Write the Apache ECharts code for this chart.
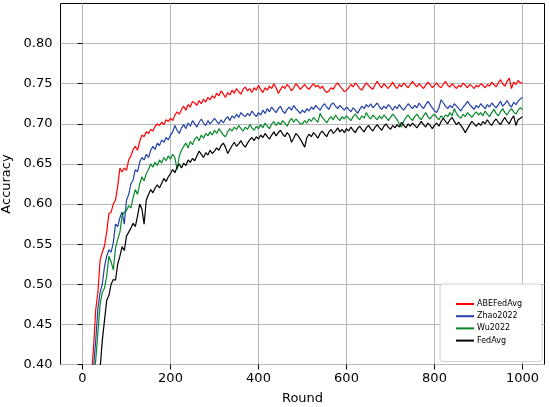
<!DOCTYPE html>
<html>
<head>
<meta charset="utf-8">
<script src="https://cdn.jsdelivr.net/npm/echarts@6/dist/echarts.min.js"></script>
<style>
html,body{margin:0;padding:0;background:#fff;}
#chart{width:550px;height:407px;}
</style>
</head>
<body>
<div id="chart"></div>
<script>
// Rounds sampled every 5 rounds, 10 .. 1000
const rounds = [];
for (let r = 10; r <= 1000; r += 5) rounds.push(r);

const seriesNames = ['ABEFedAvg', 'Zhao2022', 'Wu2022', 'FedAvg'];
const xTicks = [0, 200, 400, 600, 800, 1000];
const yTicks = [0.40, 0.45, 0.50, 0.55, 0.60, 0.65, 0.70, 0.75, 0.80];

const abeFedAvg = [
  0.33,0.36,0.385,0.42,0.468,0.49,0.53,0.54,0.548,0.565,0.588,0.59,0.60,0.605,0.622,0.645,0.64,0.645,
  0.642,0.655,0.66,0.668,0.672,0.667,0.678,0.686,0.684,0.69,0.688,0.693,0.691,0.697,0.700,0.698,0.702,0.699,0.705,0.703,
  0.707,0.704,0.711,0.715,0.712,0.718,0.722,0.717,0.724,0.721,0.728,0.726,0.723,0.729,0.725,0.731,0.727,0.733,0.730,0.735,
  0.732,0.738,0.735,0.741,0.737,0.733,0.739,0.736,0.742,0.738,0.744,0.740,0.737,0.743,0.746,0.741,0.744,0.739,0.745,0.742,
  0.748,0.743,0.739,0.745,0.742,0.747,0.744,0.750,0.745,0.738,0.743,0.747,0.744,0.749,0.746,0.741,0.745,0.750,0.747,0.743,
  0.746,0.749,0.745,0.743,0.747,0.750,0.746,0.748,0.744,0.747,0.742,0.739,0.741,0.745,0.743,0.748,0.751,0.747,0.744,0.740,
  0.742,0.745,0.749,0.746,0.751,0.748,0.744,0.742,0.747,0.751,0.748,0.745,0.743,0.749,0.753,0.748,0.745,0.750,0.747,0.744,
  0.748,0.752,0.747,0.744,0.749,0.746,0.751,0.748,0.745,0.749,0.753,0.749,0.746,0.750,0.747,0.744,0.748,0.752,0.749,0.745,
  0.748,0.751,0.747,0.745,0.749,0.753,0.748,0.746,0.750,0.747,0.744,0.748,0.746,0.751,0.748,0.745,0.749,0.747,0.744,0.748,
  0.746,0.750,0.748,0.745,0.749,0.747,0.752,0.749,0.746,0.751,0.755,0.750,0.747,0.753,0.757,0.744,0.752,0.749,0.754,0.751,0.751
];
const zhao2022 = [
  0.32,0.35,0.37,0.395,0.43,0.47,0.49,0.50,0.522,0.535,0.543,0.54,0.552,0.575,0.572,0.583,0.59,0.575,
  0.605,0.612,0.625,0.63,0.643,0.64,0.652,0.658,0.655,0.662,0.658,0.667,0.672,0.668,0.676,0.673,0.68,0.677,0.683,0.680,
  0.686,0.69,0.698,0.692,0.688,0.695,0.699,0.694,0.701,0.697,0.704,0.700,0.696,0.702,0.706,0.701,0.698,0.704,0.700,0.703,
  0.707,0.703,0.700,0.705,0.701,0.706,0.709,0.704,0.710,0.707,0.712,0.708,0.714,0.711,0.709,0.713,0.710,0.716,0.712,0.709,
  0.714,0.711,0.717,0.713,0.719,0.715,0.721,0.717,0.714,0.719,0.722,0.716,0.713,0.718,0.721,0.717,0.723,0.719,0.716,0.713,
  0.717,0.714,0.719,0.716,0.721,0.718,0.723,0.720,0.717,0.722,0.725,0.721,0.718,0.724,0.726,0.722,0.719,0.723,0.720,0.717,
  0.721,0.718,0.715,0.720,0.717,0.713,0.718,0.722,0.719,0.724,0.721,0.725,0.720,0.723,0.726,0.721,0.718,0.722,0.719,0.724,
  0.721,0.717,0.722,0.719,0.724,0.720,0.717,0.721,0.725,0.722,0.719,0.723,0.720,0.726,0.722,0.719,0.724,0.728,0.724,0.720,
  0.716,0.714,0.720,0.730,0.726,0.722,0.719,0.723,0.720,0.725,0.722,0.719,0.716,0.721,0.724,0.728,0.724,0.721,0.718,0.723,
  0.720,0.725,0.722,0.719,0.724,0.721,0.726,0.723,0.720,0.724,0.728,0.722,0.725,0.729,0.724,0.721,0.727,0.724,0.728,0.731,0.733
];
const wu2022 = [
  0.31,0.34,0.36,0.38,0.405,0.44,0.475,0.49,0.495,0.51,0.535,0.528,0.518,0.545,0.556,0.565,0.585,0.59,
  0.592,0.598,0.595,0.608,0.618,0.612,0.625,0.634,0.629,0.638,0.643,0.650,0.646,0.652,0.648,0.655,0.651,0.658,0.654,0.660,
  0.656,0.662,0.658,0.643,0.660,0.667,0.672,0.676,0.670,0.678,0.674,0.681,0.684,0.679,0.686,0.682,0.688,0.685,0.690,0.686,
  0.692,0.688,0.694,0.690,0.686,0.684,0.690,0.694,0.691,0.696,0.693,0.698,0.694,0.691,0.696,0.693,0.699,0.695,0.692,0.697,
  0.694,0.699,0.695,0.701,0.697,0.694,0.700,0.703,0.698,0.702,0.699,0.704,0.701,0.697,0.703,0.707,0.702,0.706,0.703,0.700,
  0.700,0.704,0.701,0.706,0.703,0.708,0.705,0.702,0.713,0.708,0.705,0.701,0.706,0.709,0.705,0.711,0.707,0.704,0.709,0.706,
  0.710,0.707,0.704,0.709,0.712,0.708,0.705,0.710,0.707,0.714,0.709,0.706,0.711,0.708,0.705,0.710,0.706,0.711,0.708,0.704,
  0.708,0.712,0.709,0.705,0.700,0.696,0.703,0.708,0.711,0.707,0.704,0.709,0.712,0.708,0.705,0.710,0.714,0.709,0.706,0.710,
  0.712,0.708,0.705,0.710,0.707,0.711,0.709,0.714,0.710,0.719,0.713,0.709,0.707,0.712,0.709,0.714,0.711,0.708,0.712,0.715,
  0.711,0.714,0.710,0.716,0.712,0.709,0.714,0.718,0.713,0.710,0.715,0.719,0.714,0.711,0.716,0.719,0.715,0.712,0.717,0.720,0.718
];
const fedAvg = [
  0.29,0.31,0.33,0.35,0.365,0.38,0.395,0.43,0.455,0.48,0.486,0.50,0.506,0.505,0.525,0.535,0.547,0.542,
  0.56,0.565,0.57,0.576,0.572,0.585,0.60,0.594,0.575,0.605,0.612,0.618,0.614,0.620,0.624,0.62,0.626,0.632,0.628,0.634,
  0.638,0.643,0.639,0.646,0.650,0.645,0.651,0.648,0.655,0.652,0.657,0.654,0.660,0.666,0.662,0.658,0.664,0.661,0.667,0.663,
  0.666,0.670,0.667,0.673,0.676,0.671,0.663,0.668,0.673,0.677,0.672,0.675,0.679,0.674,0.671,0.676,0.680,0.683,0.679,0.684,
  0.681,0.686,0.683,0.688,0.684,0.681,0.686,0.690,0.685,0.689,0.692,0.687,0.684,0.689,0.686,0.677,0.682,0.688,0.685,0.681,
  0.676,0.671,0.683,0.687,0.684,0.689,0.686,0.682,0.688,0.691,0.687,0.684,0.690,0.693,0.688,0.691,0.695,0.690,0.693,0.689,
  0.694,0.691,0.696,0.692,0.689,0.694,0.697,0.693,0.690,0.695,0.698,0.694,0.691,0.696,0.699,0.695,0.692,0.697,0.700,0.696,
  0.693,0.698,0.695,0.699,0.696,0.702,0.698,0.695,0.700,0.697,0.701,0.698,0.695,0.699,0.703,0.699,0.696,0.701,0.698,0.694,
  0.698,0.701,0.697,0.703,0.707,0.703,0.700,0.705,0.708,0.703,0.699,0.702,0.698,0.694,0.689,0.694,0.699,0.703,0.700,0.697,
  0.701,0.698,0.703,0.700,0.705,0.701,0.698,0.703,0.706,0.702,0.699,0.704,0.708,0.703,0.700,0.706,0.710,0.698,0.705,0.707,0.709
];

const seriesValues = [abeFedAvg, zhao2022, wu2022, fedAvg];
const colors = ['#ff0000', '#2140a8', '#07892a', '#000000'];

const chart = echarts.init(document.getElementById('chart'), null, {renderer: 'canvas'});
const font = 'DejaVu Sans';

chart.setOption({
  animation: false,
  backgroundColor: '#fff',
  grid: {
    left: 60.5, top: 3.5, right: 5.5, bottom: 42.5,
    outerBoundsMode: 'none',
    containLabel: false,
    show: true, borderColor: '#000', borderWidth: 1, backgroundColor: 'transparent'
  },
  legend: {
    orient: 'vertical',
    left: 440, top: 284,
    padding: [16, 20, 17, 16],
    itemGap: 4.2,
    itemWidth: 18, itemHeight: 2,
    icon: 'rect',
    backgroundColor: '#fff',
    borderColor: '#d0d0d0', borderWidth: 1, borderRadius: 3,
    textStyle: {fontFamily: font, fontSize: 8, color: '#000', padding: [0,0,0,-2]},
    data: seriesNames
  },
  xAxis: {
    type: 'value', min: -50, max: 1050,
    name: 'Round', nameLocation: 'middle', nameGap: 28,
    nameTextStyle: {fontFamily: font, fontSize: 13, color: '#000'},
    axisLine: {show: false},
    axisTick: {show: true, length: 5, customValues: xTicks, lineStyle: {color: '#000'}},
    axisLabel: {customValues: xTicks, fontFamily: font, fontSize: 13, color: '#000', margin: 8,
      formatter: v => String(Math.round(v))},
    splitLine: {show: true, lineStyle: {color: '#b8b8b8', width: 1}}
  },
  yAxis: {
    type: 'value', min: 0.40, max: 0.85,
    name: 'Accuracy', nameLocation: 'middle', nameGap: 41, nameRotate: 90,
    nameTextStyle: {fontFamily: font, fontSize: 13, color: '#000'},
    axisLine: {show: false},
    axisTick: {show: true, length: 5, customValues: yTicks, lineStyle: {color: '#000'}},
    axisLabel: {customValues: yTicks, fontFamily: font, fontSize: 13, color: '#000', margin: 8,
      formatter: v => v.toFixed(2)},
    splitLine: {show: true, lineStyle: {color: '#b8b8b8', width: 1}}
  },
  series: seriesNames.map((name, i) => ({
    name: name,
    type: 'line',
    showSymbol: false,
    symbol: 'none',
    clip: true,
    color: colors[i],
    lineStyle: {width: 1.2, color: colors[i]},
    data: rounds.map((r, k) => [r, seriesValues[i][k]])
  }))
});
</script>
</body>
</html>
